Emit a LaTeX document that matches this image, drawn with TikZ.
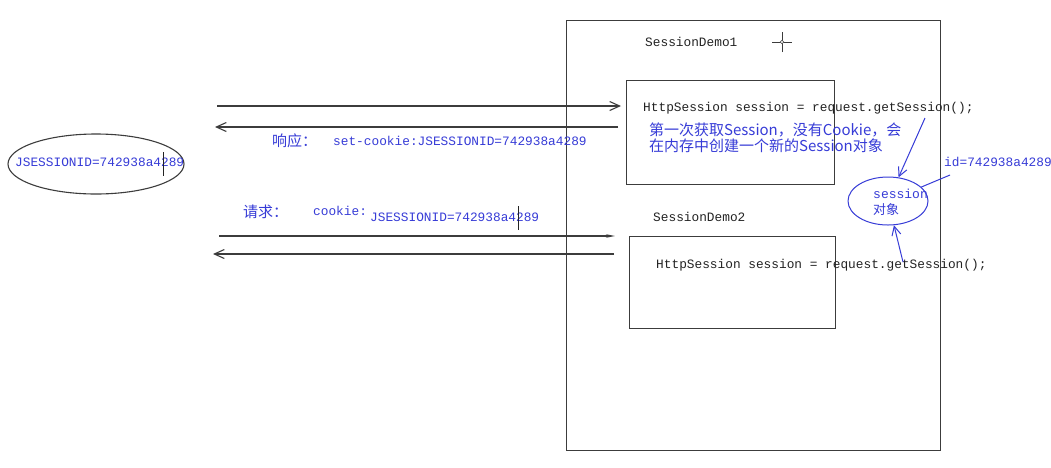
\documentclass[tikz,border=0pt]{standalone}
\usepackage{fontspec}
\setmonofont{Liberation Mono}
\newfontfamily\cjk{Noto Sans CJK SC}
\usetikzlibrary{arrows.meta,shapes.geometric}
\definecolor{penblue}{RGB}{55,60,215}
\definecolor{linegray}{RGB}{60,60,60}
\definecolor{codegray}{RGB}{35,35,35}
\tikzset{
  code/.style={font=\fontsize{12.8}{14}\selectfont\ttfamily, text=codegray, inner sep=0pt, anchor=west},
  bluecode/.style={code, text=penblue},
  note/.style={font=\fontsize{15}{16}\selectfont\cjk, text=penblue, inner sep=0pt, anchor=west},
  boxshape/.style={draw=linegray, line width=1.2pt, rectangle, inner sep=0pt, anchor=north west},
  wire/.style={draw=linegray, line width=1.1pt},
  barb/.style={-{Straight Barb[length=10pt,width=9pt]}},
  smallhead/.style={-{Stealth[length=9pt,width=3.5pt]}},
  bluewire/.style={draw=penblue, line width=1pt, -{Straight Barb[length=9pt,width=9pt]}}
}
\begin{document}
\begin{tikzpicture}[x=1pt,y=-1pt]
\useasboundingbox[fill=white] (0,0) rectangle (1051,467);

% server and boxes
\node[boxshape, minimum width=374pt, minimum height=430pt] (server) at (566,20) {};
\node[boxshape, minimum width=208pt, minimum height=104pt] (box1) at (626,80) {};
\node[boxshape, minimum width=206pt, minimum height=92pt] (box2) at (629,236) {};

\node[code] (demo1) at (645,42) {SessionDemo1};
\node[code] (demo2) at (653,217) {SessionDemo2};
\node[code] (get1) at (643,108) {HttpSession session = request.getSession();};
\node[code] (get2) at (656,265) {HttpSession session = request.getSession();};

% cursor crosshair
\coordinate (cross) at (782,42);
\draw[linegray, line width=0.9pt] ([xshift=-10pt]cross) -- ([xshift=10pt]cross)
  ([yshift=-10pt]cross) -- ([yshift=10pt]cross);
\draw[linegray, line width=0.6pt, fill=white] (cross) circle (1.8pt);

% note
\node[note, align=left] (note1) at (649,138) {{\cjk 第一次获取}Session{\cjk ，没有}Cookie{\cjk ，会}\\{\cjk 在内存中创建一个新的}Session{\cjk 对象}};

% session object
\node[draw=penblue, line width=1pt, ellipse, minimum width=80pt, minimum height=48pt, inner sep=0pt] (sess) at (888,201) {};
\node[anchor=west, inner sep=0pt, align=left, text=penblue, font=\fontsize{13}{16}\selectfont] (sesstxt) at (873,202) {{\ttfamily session}\\{\cjk 对象}};
\node[bluecode] (idtxt) at (944,162) {id=742938a4289};

\coordinate (g1) at (925,118);
\coordinate (g2) at (903,262);
\coordinate (idl) at (950,175);
\draw[bluewire] (g1) -- (sess);
\draw[bluewire] (g2) -- (sess);
\draw[draw=penblue, line width=1pt] (idl) -- (sess);

% browser cookie
\node[draw=linegray, line width=1.1pt, ellipse, minimum width=176pt, minimum height=60pt, inner sep=0pt] (browser) at (96,164) {};
\node[bluecode] (bcookie) at (15,162) {JSESSIONID=742938a4289};
\draw[codegray, line width=0.9pt] (163,152) -- (163,176);

% request / response arrows
\coordinate (a1s) at (217,106);
\coordinate (a1e) at (621,106);
\coordinate (a2s) at (618,127);
\coordinate (a2e) at (215,127);
\coordinate (a3s) at (219,236);
\coordinate (a3e) at (615,236);
\coordinate (a4s) at (614,254);
\coordinate (a4e) at (213,254);
\draw[wire, barb] (a1s) -- (a1e);
\draw[wire, barb] (a2s) -- (a2e);
\draw[wire, smallhead] (a3s) -- (a3e);
\draw[wire, barb] (a4s) -- (a4e);

\node[note] (resp) at (272,141) {响应：};
\node[bluecode] (setck) at (333,141) {set-cookie:JSESSIONID=742938a4289};
\node[note] (req) at (243,212) {请求：};
\node[bluecode] (ck) at (313,211) {cookie:};
\node[bluecode] (ckval) at (370,217) {JSESSIONID=742938a4289};
\draw[codegray, line width=0.9pt] (518,206) -- (518,230);
\end{tikzpicture}
\end{document}
